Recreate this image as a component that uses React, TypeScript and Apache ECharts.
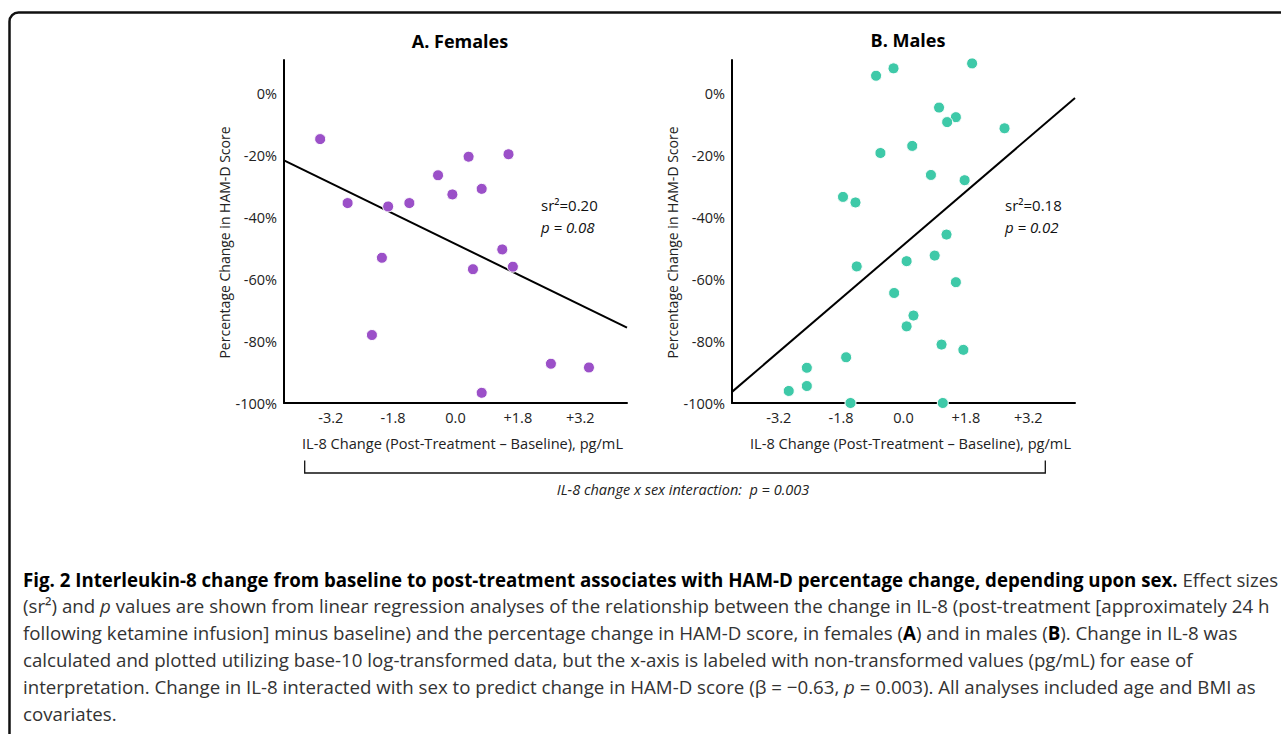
import React, { useEffect, useRef } from "react";
import * as echarts from "echarts";

// ---------- data ----------
const xTickPos = [-2, -1, 0, 1, 2];
const xTickLabels = ["-3.2", "-1.8", "0.0", "+1.8", "+3.2"];
const yTicks = [0, -20, -40, -60, -80, -100];

const femaleX = [-2.17, -1.73, -1.08, -0.74, -1.18, -1.34, -0.28, -0.05, 0.21, 0.42, 0.85, 0.75, 0.92, 0.28, 0.42, 1.53, 2.14];
const femaleY = [-14.6, -35.3, -36.4, -35.3, -53.0, -78.0, -26.3, -32.5, -20.3, -30.7, -19.5, -50.3, -55.9, -56.7, -96.7, -87.3, -88.5];
const femaleFitX = [-2.75, 2.75];
const femaleFitY = [-21.5, -75.6];

const maleX = [-0.44, -0.16, 1.1, 0.57, 0.84, 0.7, 1.62, 0.14, -0.37, 0.44, 0.98, -0.97, -0.77, 0.69, 0.5, 0.05, -0.75, 0.84, -0.15, 0.16, 0.05, 0.61, 0.96, -0.92, -1.55, -1.55, -1.84, -0.85, 0.63];
const maleY = [5.9, 8.3, 9.9, -4.4, -7.5, -9.1, -11.1, -16.8, -19.1, -26.2, -27.9, -33.3, -35.1, -45.5, -52.3, -54.1, -55.8, -60.9, -64.4, -71.7, -75.2, -81.1, -82.8, -85.2, -88.6, -94.5, -96.1, -100, -100];
const maleFitX = [-2.75, 2.75];
const maleFitY = [-96.4, -1.3];

const FONT = '"Open Sans", "Noto Sans", sans-serif';
const PURPLE = "#9b50c8";
const TEAL = "#3ec9a8";

const captionLines = [
  "{b|Fig. 2 Interleukin-8 change from baseline to post-treatment associates with HAM-D percentage change, depending upon sex.} Effect sizes",
  "(sr²) and {i|p} values are shown from linear regression analyses of the relationship between the change in IL-8 (post-treatment [approximately 24 h",
  "following ketamine infusion] minus baseline) and the percentage change in HAM-D score, in females ({b|A}) and in males ({b|B}). Change in IL-8 was",
  "calculated and plotted utilizing base-10 log-transformed data, but the x-axis is labeled with non-transformed values (pg/mL) for ease of",
  "interpretation. Change in IL-8 interacted with sex to predict change in HAM-D score (β = −0.63, {i|p} = 0.003). All analyses included age and BMI as",
  "covariates.",
];

const CAP_SIZE = 18.7;

function axisX(gridIndex: number) {
  return {
    type: "value",
    gridIndex,
    min: -2.75,
    max: 2.75,
    axisLine: { onZero: false, lineStyle: { color: "#000", width: 2 } },
    axisTick: { show: false },
    splitLine: { show: false },
    axisLabel: {
      customValues: xTickPos,
      formatter: (v: number) => {
        const i = xTickPos.indexOf(Math.round(v));
        return i >= 0 ? xTickLabels[i] : "";
      },
      color: "#222",
      fontSize: 14.5,
      fontFamily: FONT,
      margin: 7,
    },
    name: "IL-8 Change (Post-Treatment – Baseline), pg/mL",
    nameLocation: "middle",
    nameGap: 32,
    nameTextStyle: { color: "#222", fontSize: 14.6, fontFamily: FONT, padding: [0, 0, 0, 14] },
  };
}

function axisY(gridIndex: number) {
  return {
    type: "value",
    gridIndex,
    min: -100,
    max: 11,
    axisLine: { show: true, onZero: false, lineStyle: { color: "#000", width: 2 } },
    axisTick: { show: false },
    splitLine: { show: false },
    axisLabel: {
      customValues: yTicks,
      formatter: (v: number) => `${v}%`,
      color: "#222",
      fontSize: 14.5,
      fontFamily: FONT,
      margin: 7,
    },
    name: "Percentage Change in HAM-D Score",
    nameLocation: "middle",
    nameGap: 45,
    nameTextStyle: { color: "#222", fontSize: 14, fontFamily: FONT, padding: [0, 22, 0, 0] },
  };
}

function txt(x: number, y: number, text: string, extra: any = {}) {
  return {
    type: "text",
    x,
    y,
    silent: true,
    style: {
      text,
      fill: "#111",
      fontFamily: FONT,
      fontSize: 15,
      align: "left",
      verticalAlign: "middle",
      textAlign: "left",
      textVerticalAlign: "middle",
      ...extra,
    },
  };
}

export default function App() {
  const ref = useRef<HTMLDivElement>(null);
  useEffect(() => {
    if (!ref.current) return;
    const chart = echarts.init(ref.current, undefined, { renderer: "svg" });
    const captionRich = {
      b: { fontWeight: "bold", fontFamily: FONT, fontSize: CAP_SIZE, fill: "#000", color: "#000" },
      i: { fontStyle: "italic", fontFamily: FONT, fontSize: CAP_SIZE, fill: "#333", color: "#333" },
    };
    const option: any = {
      animation: false,
      backgroundColor: "#fff",
      grid: [
        { left: 284, top: 60, width: 343, height: 343 },
        { left: 732, top: 60, width: 343, height: 343 },
      ],
      xAxis: [axisX(0), axisX(1)],
      yAxis: [axisY(0), axisY(1)],
      series: [
        {
          type: "line",
          xAxisIndex: 0,
          yAxisIndex: 0,
          data: femaleFitX.map((x, i) => [x, femaleFitY[i]]),
          symbol: "none",
          lineStyle: { color: "#000", width: 2 },
          z: 2,
        },
        {
          type: "scatter",
          xAxisIndex: 0,
          yAxisIndex: 0,
          data: femaleX.map((x, i) => [x, femaleY[i]]),
          symbolSize: 11,
          clip: false,
          itemStyle: { color: PURPLE, borderColor: "#fff", borderWidth: 1, opacity: 1 },
          z: 3,
        },
        {
          type: "line",
          xAxisIndex: 1,
          yAxisIndex: 1,
          data: maleFitX.map((x, i) => [x, maleFitY[i]]),
          symbol: "none",
          lineStyle: { color: "#000", width: 2 },
          z: 2,
        },
        {
          type: "scatter",
          xAxisIndex: 1,
          yAxisIndex: 1,
          data: maleX.map((x, i) => [x, maleY[i]]),
          symbolSize: 11,
          clip: false,
          itemStyle: { color: TEAL, borderColor: "#fff", borderWidth: 1, opacity: 1 },
          z: 3,
        },
      ],
      graphic: [
        {
          type: "rect",
          silent: true,
          shape: { x: 9.5, y: 12.5, width: 1330, height: 800, r: 9 },
          style: { fill: "none", stroke: "#111", lineWidth: 2.5 },
        },
        txt(460, 41, "A. Females", { fontSize: 18, fontWeight: "bold", align: "center", textAlign: "center", fill: "#000" }),
        txt(908, 40, "B. Males", { fontSize: 18, fontWeight: "bold", align: "center", textAlign: "center", fill: "#000" }),
        txt(541, 205, "sr²=0.20"),
        txt(541, 227, "p = 0.08", { fontStyle: "italic" }),
        txt(1005, 205, "sr²=0.18"),
        txt(1005, 227, "p = 0.02", { fontStyle: "italic" }),
        {
          type: "polyline",
          silent: true,
          shape: { points: [[304.7, 460.5], [304.7, 473], [1045.3, 473], [1045.3, 460.5]] },
          style: { fill: "none", stroke: "#111", lineWidth: 1.3 },
        },
        txt(683, 489, "IL-8 change x sex interaction:  p = 0.003", {
          fontSize: 14.5,
          fontStyle: "italic",
          align: "center",
          textAlign: "center",
          fill: "#222",
        }),
        ...captionLines.map((line, k) =>
          txt(23, 579 + k * 26.9, line, { fontSize: CAP_SIZE, fill: "#333", rich: captionRich })
        ),
      ],
    };
    chart.setOption(option);
    return () => chart.dispose();
  }, []);
  return (
    <div
      ref={ref}
      style={{ position: "absolute", left: 0, top: 0, width: 1281, height: 734, background: "#fff" }}
    />
  );
}
